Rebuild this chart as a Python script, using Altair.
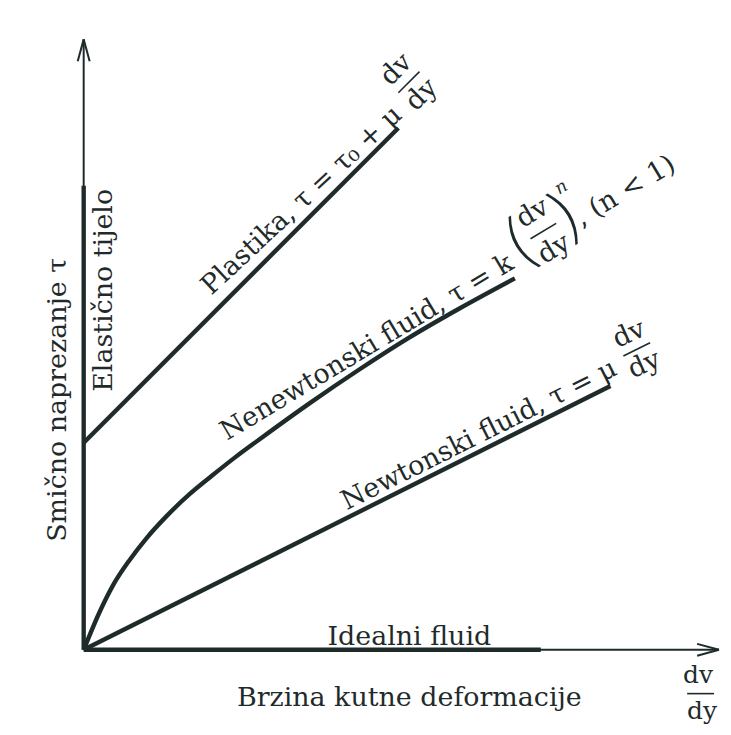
import math
import altair as alt
import pandas as pd

# ---------------- values (1 unit ~ 1 px) ----------------
AXIS_X_END = 638          # dv/dy axis arrow tip
AXIS_Y_END = 613          # tau axis arrow tip

elastic_x = [0, 0]        # Elastično tijelo (on the tau axis)
elastic_y = [0, 466]
ideal_x = [0, 459]        # Idealni fluid (on the dv/dy axis)
ideal_y = [0, 0]
plastic_x = [0, 316]      # Plastika (Bingham)
plastic_y = [208, 524]
newton_x = [0, 529]       # Newtonski fluid
newton_y = [0, 265]
nonnewton_x = [0, 16, 29, 46, 63, 83, 106, 129, 153, 176, 226, 276, 326, 376, 433]
nonnewton_y = [0, 38, 64, 90, 112, 134, 156, 175, 194, 211, 247, 281, 313, 342, 373]

y_axis_title = "Smično naprezanje τ"
x_axis_title = "Brzina kutne deformacije"
elastic_label = "Elastično tijelo"
ideal_label = "Idealni fluid"
plastic_label = "Plastika, τ = τ₀ + μ"
newton_label = "Newtonski fluid, τ = μ"
nonnewton_label = "Nenewtonski fluid, τ = k"
nonnewton_tail = ", (n < 1)"

FONT = "DejaVu Serif"
PAREN_FONT = "DejaVu Sans"
INK = "#1f2b2b"
FS = 27

# ---------------- helpers for rotated annotation frames ----------------
def frame(anchor, theta):
    t = math.radians(theta)
    ux, uy = math.cos(t), math.sin(t)
    vx, vy = -math.sin(t), math.cos(t)
    def at(a, p):
        return anchor[0] + a * ux + p * vx, anchor[1] + a * uy + p * vy
    return at, (ux, uy)

texts, itexts, ptexts, segs = [], [], [], []

def add_text(rows, s, xy, angle, size=FS):
    rows.append({"x": xy[0], "y": xy[1], "text": s,
                 "angle": (360 - angle) % 360, "size": size})

def add_seg(p, q, w):
    segs.append({"x": p[0], "y": p[1], "x2": q[0], "y2": q[1], "w": w})

def add_frac(at, u, a, p_bar, gap_up, gap_dn, angle, half=15, size=FS):
    add_text(texts, "dv", at(a, p_bar + gap_up), angle, size)
    add_text(texts, "dy", at(a, p_bar - gap_dn), angle, size)
    cx, cy = at(a, p_bar)
    add_seg((cx - half * u[0], cy - half * u[1]), (cx + half * u[0], cy + half * u[1]), 1.6)

# axes + arrowheads
add_seg((0, 0), (0, AXIS_Y_END), 2)
add_seg((0, 0), (AXIS_X_END, 0), 2)
add_seg((0, AXIS_Y_END), (-6, AXIS_Y_END - 22), 2)
add_seg((0, AXIS_Y_END), (6, AXIS_Y_END - 22), 2)
add_seg((AXIS_X_END, 0), (AXIS_X_END - 22, 6), 2)
add_seg((AXIS_X_END, 0), (AXIS_X_END - 22, -6), 2)

# axis titles
add_text(texts, y_axis_title, (-26, 251), 90)
add_text(texts, x_axis_title, (327, -48), 0)
add_text(texts, "dv", (617, -25), 0, 25)
add_text(texts, "dy", (621, -61), 0, 25)
add_seg((606, -44), (633, -44), 1.6)

# elastic / ideal labels
add_text(texts, elastic_label, (20, 361), 90)
add_text(texts, ideal_label, (327, 13), 0)

# plastika label
at, u = frame((plastic_x[-1], plastic_y[-1]), 45)
add_text(texts, plastic_label, at(-120, 17), 43)
add_frac(at, u, 40, 25, 18, 18, 45)

# newtonski label
at, u = frame((newton_x[-1], newton_y[-1]), 26.6)
add_text(texts, newton_label, at(-140, 15), 26.6)
add_frac(at, u, 40, 21, 17, 17, 24)

# nenewtonski label
at, u = frame((nonnewton_x[-1], nonnewton_y[-1]), 31)
add_text(texts, nonnewton_label, at(-163, 17), 31)
add_text(ptexts, "(", at(23, 26), 31, 66)
add_frac(at, u, 49, 26, 21, 21, 31)
add_text(ptexts, ")", at(75, 26), 31, 66)
add_text(itexts, "n", at(87, 54), 31, 18)
add_text(texts, nonnewton_tail, at(140, 18), 31)

# ---------------- tables ----------------
curves = []
for name, xs_, ys_ in [("elastic", elastic_x, elastic_y), ("ideal", ideal_x, ideal_y),
                       ("plastic", plastic_x, plastic_y), ("newton", newton_x, newton_y),
                       ("nonnewton", nonnewton_x, nonnewton_y)]:
    for i, (a, b) in enumerate(zip(xs_, ys_)):
        curves.append({"series": name, "i": i, "x": a, "y": b})
curves = pd.DataFrame(curves)
segs = pd.DataFrame(segs)
texts = pd.DataFrame(texts)
itexts = pd.DataFrame(itexts)
ptexts = pd.DataFrame(ptexts)

xs = alt.Scale(domain=[-76, 642], zero=False, nice=False)
ys = alt.Scale(domain=[-74, 640], zero=False, nice=False)

rules = alt.Chart(segs).mark_rule(color=INK, strokeCap="butt").encode(
    x=alt.X("x:Q", scale=xs, axis=None),
    y=alt.Y("y:Q", scale=ys, axis=None),
    x2="x2:Q", y2="y2:Q",
    strokeWidth=alt.StrokeWidth("w:Q", scale=None),
)

lines = alt.Chart(curves).mark_line(color=INK, strokeWidth=4.4, interpolate="monotone",
                                    strokeCap="butt", strokeJoin="round").encode(
    x=alt.X("x:Q", scale=xs, axis=None),
    y=alt.Y("y:Q", scale=ys, axis=None),
    detail="series:N",
    order="i:Q",
)

def text_layer(df, style, font, weight="normal"):
    return alt.Chart(df).mark_text(font=font, color=INK, align="center", baseline="middle",
                                   fontStyle=style, fontWeight=weight).encode(
        x=alt.X("x:Q", scale=xs, axis=None),
        y=alt.Y("y:Q", scale=ys, axis=None),
        text="text:N",
        angle=alt.Angle("angle:Q", scale=None),
        size=alt.Size("size:Q", scale=None),
    )

chart = alt.layer(
    rules, lines,
    text_layer(texts, "normal", FONT),
    text_layer(itexts, "italic", FONT),
    text_layer(ptexts, "normal", PAREN_FONT, 200),
).properties(
    width=718, height=714,
    autosize=alt.AutoSizeParams(type="none"),
    padding={"left": 0, "top": 3, "right": 0, "bottom": 0},
    background="white",
).configure_view(strokeWidth=0)

chart.save("out.html", embed_options={"renderer": "svg", "actions": False})
